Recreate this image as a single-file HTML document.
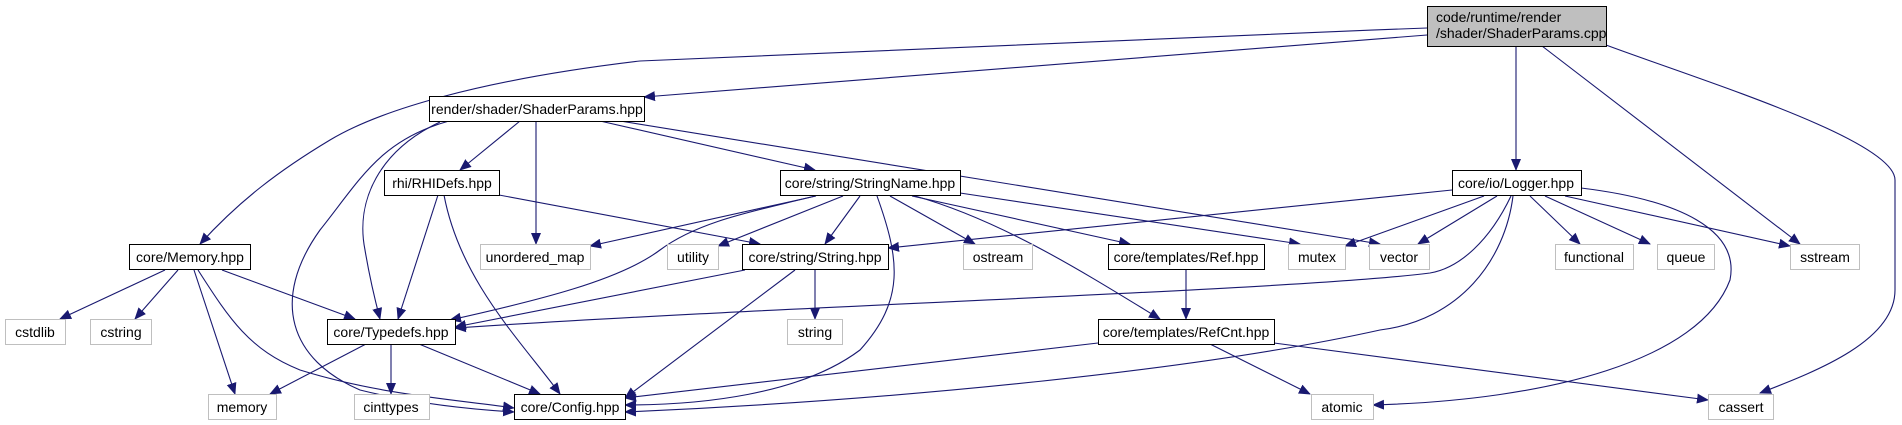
<!DOCTYPE html>
<html><head><meta charset="utf-8"><style>
html,body{margin:0;padding:0;background:#fff;}
svg{display:block;}
text{font-family:"Liberation Sans",Arial,sans-serif;font-size:14px;fill:#000;}
</style></head><body>
<svg width="1902" height="425" viewBox="0 0 1902 425" xmlns="http://www.w3.org/2000/svg">
<defs>
<marker id="a" markerUnits="userSpaceOnUse" markerWidth="12" markerHeight="12" viewBox="0 0 12 12" refX="11" refY="6" orient="auto">
<path d="M0,1 L12,6 L0,11 z" fill="#191970"/>
</marker>
</defs>
<g fill="none" stroke="#191970" stroke-width="1.1" marker-end="url(#a)">
<!-- cpp edges -->
<path d="M1427,28 C1100,40 760,55 640,61 C480,80 380,110 330,140 C280,170 240,200 200,244"/>
<path d="M1427,35 L644,97"/>
<path d="M1516,46 L1516,170"/>
<path d="M1542,46 L1800,244"/>
<path d="M1606,45 C1700,80 1895,140 1895,180 L1895,290 C1895,340 1820,370 1760,393"/>
<!-- ShaderParams -->
<path d="M449,121 C380,140 360,180 320,230 C270,300 290,360 360,390 C420,405 480,410 514,412"/>
<path d="M440,122 C380,150 355,200 365,250 C370,280 375,300 380,319"/>
<path d="M520,121 L460,170"/>
<path d="M536,121 L536,244"/>
<path d="M600,121 L815,170"/>
<path d="M620,121 L1380,244"/>
<!-- Memory -->
<path d="M165,270 L60,319"/>
<path d="M178,270 L135,319"/>
<path d="M194,270 L235,394"/>
<path d="M222,270 L355,319"/>
<path d="M198,270 C230,320 250,350 300,370 C380,395 460,400 514,408"/>
<!-- RHIDefs -->
<path d="M438,195 L398,319"/>
<path d="M444,195 C460,280 520,340 560,394"/>
<path d="M499,195 L760,244"/>
<!-- Typedefs -->
<path d="M366,344 L270,394"/>
<path d="M391,344 L391,394"/>
<path d="M419,344 L540,394"/>
<!-- StringName -->
<path d="M816,196 L590,246"/>
<path d="M815,196 C760,210 700,220 660,250 C620,280 540,300 450,320"/>
<path d="M843,196 L718,246"/>
<path d="M860,196 L825,244"/>
<path d="M877,196 C900,260 905,300 860,350 C800,395 700,405 625,405"/>
<path d="M890,196 L975,244"/>
<path d="M912,196 L1130,244"/>
<path d="M915,196 C1000,220 1080,270 1160,319"/>
<path d="M960,193 L1300,244"/>
<!-- String.hpp -->
<path d="M745,270 L455,327"/>
<path d="M815,270 L815,319"/>
<path d="M795,270 L625,398"/>
<!-- Ref -->
<path d="M1186,270 L1186,319"/>
<!-- RefCnt -->
<path d="M1098,343 L625,398"/>
<path d="M1210,344 L1310,394"/>
<path d="M1274,343 L1708,400"/>
<!-- Logger -->
<path d="M1452,190 L888,248"/>
<path d="M1484,196 L1345,246"/>
<path d="M1497,196 L1418,244"/>
<path d="M1511,196 C1490,240 1460,268 1430,273 C1300,290 800,305 455,328"/>
<path d="M1513,196 C1505,260 1460,320 1380,330 C1200,370 900,400 625,412"/>
<path d="M1530,196 L1580,244"/>
<path d="M1545,196 L1650,244"/>
<path d="M1565,196 L1790,246"/>
<path d="M1581,188 C1680,200 1740,230 1730,280 C1700,360 1550,400 1373,405"/>
</g>
<g stroke-width="1">
<rect x="1427.5" y="6.5" width="179" height="40" fill="#bfbfbf" stroke="#000"/>
<rect x="429.5" y="96.5" width="215" height="25" fill="#fff" stroke="#000"/>
<rect x="129.5" y="244.5" width="121" height="25" fill="#fff" stroke="#000"/>
<rect x="384.5" y="170.5" width="115" height="25" fill="#fff" stroke="#000"/>
<rect x="327.5" y="319.5" width="128" height="25" fill="#fff" stroke="#000"/>
<rect x="514.5" y="394.5" width="111" height="25" fill="#fff" stroke="#000"/>
<rect x="780.5" y="170.5" width="180" height="25" fill="#fff" stroke="#000"/>
<rect x="742.5" y="244.5" width="146" height="25" fill="#fff" stroke="#000"/>
<rect x="1108.5" y="244.5" width="156" height="25" fill="#fff" stroke="#000"/>
<rect x="1098.5" y="319.5" width="176" height="25" fill="#fff" stroke="#000"/>
<rect x="1452.5" y="170.5" width="129" height="25" fill="#fff" stroke="#000"/>
<g fill="#fff" stroke="#bfbfbf">
<rect x="480.5" y="244.5" width="110" height="25"/>
<rect x="5.5" y="319.5" width="60" height="25"/>
<rect x="90.5" y="319.5" width="61" height="25"/>
<rect x="208.5" y="394.5" width="68" height="25"/>
<rect x="354.5" y="394.5" width="75" height="25"/>
<rect x="667.5" y="244.5" width="51" height="25"/>
<rect x="963.5" y="244.5" width="69" height="25"/>
<rect x="787.5" y="319.5" width="55" height="25"/>
<rect x="1288.5" y="244.5" width="57" height="25"/>
<rect x="1369.5" y="244.5" width="60" height="25"/>
<rect x="1555.5" y="244.5" width="78" height="25"/>
<rect x="1657.5" y="244.5" width="57" height="25"/>
<rect x="1790.5" y="244.5" width="69" height="25"/>
<rect x="1311.5" y="394.5" width="62" height="25"/>
<rect x="1708.5" y="394.5" width="65" height="25"/>
</g>
</g>
<g>
<text x="1436" y="22">code/runtime/render</text>
<text x="1436" y="38">/shader/ShaderParams.cpp</text>
<g text-anchor="middle">
<text x="537" y="114">render/shader/ShaderParams.hpp</text>
<text x="190" y="262">core/Memory.hpp</text>
<text x="442" y="188">rhi/RHIDefs.hpp</text>
<text x="391" y="337">core/Typedefs.hpp</text>
<text x="570" y="412">core/Config.hpp</text>
<text x="870" y="188">core/string/StringName.hpp</text>
<text x="815" y="262">core/string/String.hpp</text>
<text x="1186" y="262">core/templates/Ref.hpp</text>
<text x="1186" y="337">core/templates/RefCnt.hpp</text>
<text x="1516" y="188">core/io/Logger.hpp</text>
<text x="535" y="262">unordered_map</text>
<text x="35" y="337">cstdlib</text>
<text x="121" y="337">cstring</text>
<text x="242" y="412">memory</text>
<text x="391" y="412">cinttypes</text>
<text x="693" y="262">utility</text>
<text x="998" y="262">ostream</text>
<text x="815" y="337">string</text>
<text x="1317" y="262">mutex</text>
<text x="1399" y="262">vector</text>
<text x="1594" y="262">functional</text>
<text x="1686" y="262">queue</text>
<text x="1825" y="262">sstream</text>
<text x="1342" y="412">atomic</text>
<text x="1741" y="412">cassert</text>
</g>
</g>
</svg>
</body></html>
